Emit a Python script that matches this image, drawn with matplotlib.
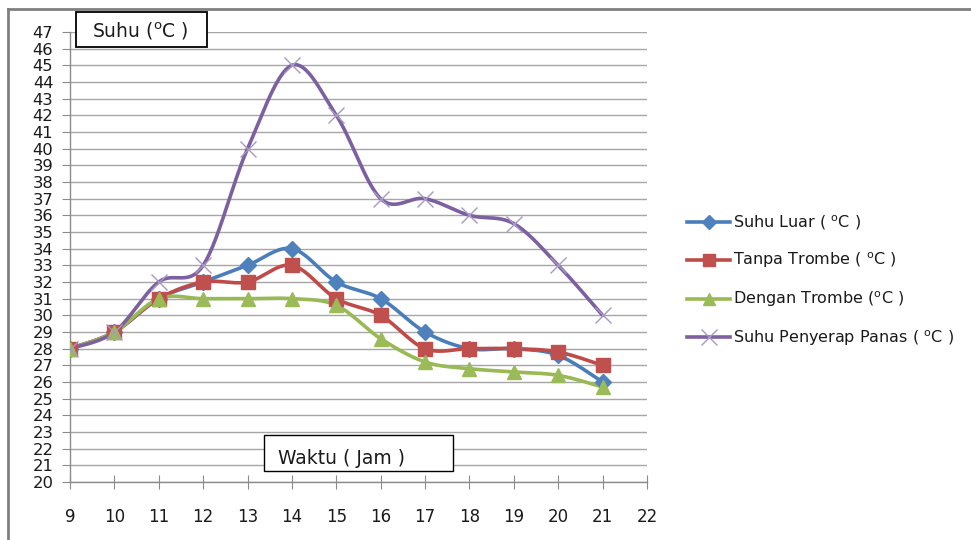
import numpy as np
import matplotlib
matplotlib.use("Agg")
import matplotlib.pyplot as plt
from matplotlib.lines import Line2D

plt.rcParams['font.family'] = ['DejaVu Sans']
plt.rcParams['mathtext.fontset'] = 'dejavusans'

hours = [9, 10, 11, 12, 13, 14, 15, 16, 17, 18, 19, 20, 21]
suhu_luar = [28, 29, 31, 32, 33, 34, 32, 31, 29, 28, 28, 27.6, 26]
tanpa_trombe = [28, 29, 31, 32, 32, 33, 31, 30, 28, 28, 28, 27.8, 27]
dengan_trombe = [28, 29, 31, 31, 31, 31, 30.6, 28.6, 27.2, 26.8, 26.6, 26.4, 25.7]
penyerap = [28, 29, 32, 33, 40, 45, 42, 37, 37, 36, 35.5, 33, 30]

DEG = r"$^{\mathrm{o}}$"
labels = ["Suhu Luar ( " + DEG + "C )", "Tanpa Trombe ( " + DEG + "C )",
          "Dengan Trombe (" + DEG + "C )",
          "Suhu Penyerap Panas ( " + DEG + "C )"]
y_ticks = list(range(20, 48))
x_ticks = list(range(9, 23))


def smooth(x, y, n=30):
    x = np.asarray(x, float)
    y = np.asarray(y, float)
    xs, ys = [], []
    N = len(x)
    for i in range(N - 1):
        p0 = (x[max(i - 1, 0)], y[max(i - 1, 0)])
        p1 = (x[i], y[i])
        p2 = (x[i + 1], y[i + 1])
        p3 = (x[min(i + 2, N - 1)], y[min(i + 2, N - 1)])
        c1 = (p1[0] + (p2[0] - p0[0]) / 6, p1[1] + (p2[1] - p0[1]) / 6)
        c2 = (p2[0] - (p3[0] - p1[0]) / 6, p2[1] - (p3[1] - p1[1]) / 6)
        t = np.linspace(0, 1, n)
        bx = (1 - t) ** 3 * p1[0] + 3 * (1 - t) ** 2 * t * c1[0] + 3 * (1 - t) * t ** 2 * c2[0] + t ** 3 * p2[0]
        by = (1 - t) ** 3 * p1[1] + 3 * (1 - t) ** 2 * t * c1[1] + 3 * (1 - t) * t ** 2 * c2[1] + t ** 3 * p2[1]
        xs.extend(bx)
        ys.extend(by)
    return np.array(xs), np.array(ys)


fig = plt.figure(figsize=(9.71, 5.40), dpi=100)
ax = fig.add_axes([70 / 971, 1 - 482 / 540, 577 / 971, 450 / 540])

series = [
    (suhu_luar, '#4A7EBB', '#4F81BD', 'D', 8.5),
    (tanpa_trombe, '#BE4B48', '#C0504D', 's', 10.5),
    (dengan_trombe, '#98B954', '#9BBB59', '^', 10.5),
    (penyerap, '#7D60A0', '#A898C4', 'x', 12),
]
handles = []
for (vals, lc, mc, mk, ms) in series:
    sx, sy = smooth(hours, vals)
    ax.plot(sx, sy, color=lc, lw=2.6, zorder=3, solid_capstyle='round')
    if mk == 'x':
        ax.plot(hours, vals, ls='none', marker='x', ms=ms, mew=1.0,
                color=mc, zorder=4)
        h = Line2D([], [], color=lc, lw=2.6, marker='x', ms=ms, mew=1.0,
                   markeredgecolor=mc)
    else:
        ax.plot(hours, vals, ls='none', marker=mk, ms=ms, color=mc,
                mec=mc, zorder=4)
        h = Line2D([], [], color=lc, lw=2.6, marker=mk, ms=ms * 0.85,
                   markerfacecolor=mc, markeredgecolor=mc)
    handles.append(h)

ax.set_xlim(9, 22)
ax.set_ylim(20, 47)
ax.set_xticks(x_ticks)
ax.set_yticks(y_ticks)
ax.grid(axis='y', color='#A6A6A6', lw=1.0)
ax.set_axisbelow(True)
for s in ['top', 'right']:
    ax.spines[s].set_visible(False)
for s in ['left', 'bottom']:
    ax.spines[s].set_color('#8C8C8C')
    ax.spines[s].set_linewidth(1.0)
ax.tick_params(axis='y', direction='out', length=6, color='#8C8C8C',
               labelsize=11.8, pad=6, labelcolor='#1a1a1a')
ax.tick_params(axis='x', direction='inout', length=10, color='#8C8C8C',
               labelsize=12, pad=14, labelcolor='#1a1a1a')
ax.set_facecolor('white')

leg = fig.legend(handles=handles, labels=labels, loc='upper left',
                 bbox_to_anchor=(687 / 971, 1 - 213 / 540), frameon=False,
                 fontsize=11.5, handlelength=2.7, labelspacing=1.2,
                 handletextpad=0.15, borderaxespad=0, borderpad=0)
for t in leg.get_texts():
    t.set_color('#1a1a1a')

fig.patches.append(plt.Rectangle((76 / 971, 1 - 47 / 540), 131 / 971, 35 / 540,
                                 transform=fig.transFigure, fill=True,
                                 fc='white', ec='black', lw=1.3, zorder=5))
fig.text(92 / 971, 1 - 31 / 540, "Suhu (" + DEG + "C )", fontsize=13.5,
         va='center', ha='left', zorder=6, color='#1a1a1a')
fig.patches.append(plt.Rectangle((264 / 971, 1 - 471 / 540), 189 / 971, 36 / 540,
                                 transform=fig.transFigure, fill=True,
                                 fc='white', ec='black', lw=1.0, zorder=5))
fig.text(278 / 971, 1 - 459 / 540, "Waktu ( Jam )", fontsize=13.5,
         va='center', ha='left', zorder=6, color='#1a1a1a')

# outer chart frame (left and top edges)
fig.add_artist(Line2D([8 / 971, 8 / 971], [0, 1 - 9 / 540],
                      transform=fig.transFigure, color='#808080', lw=2))
fig.add_artist(Line2D([8 / 971, 1], [1 - 9 / 540, 1 - 9 / 540],
                      transform=fig.transFigure, color='#808080', lw=2))

fig.savefig('out.png', dpi=100, facecolor='white')
